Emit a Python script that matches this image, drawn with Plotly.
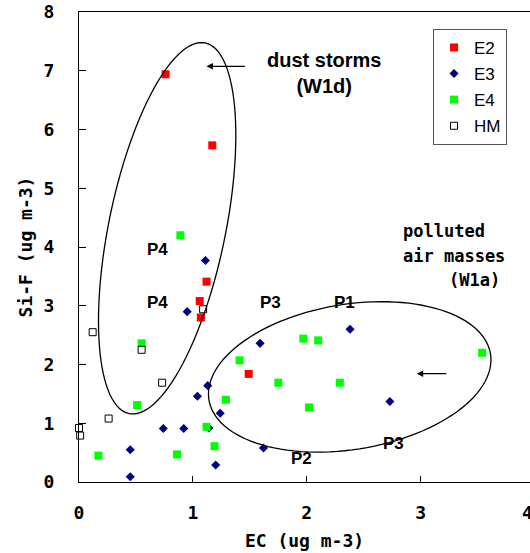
import numpy as np
import plotly.graph_objects as go

# EC vs Si-F concentrations (ug m-3) by sampling site
e2_ec = [0.76, 1.17, 1.12, 1.06, 1.07, 1.49]
e2_sif = [6.94, 5.73, 3.41, 3.08, 2.80, 1.84]

e3_ec = [1.11, 0.95, 1.59, 2.38, 2.73, 1.13, 1.04, 1.24, 0.74, 0.92, 1.14, 1.62, 1.20, 0.45, 0.45]
e3_sif = [3.77, 2.90, 2.36, 2.60, 1.37, 1.64, 1.46, 1.17, 0.91, 0.91, 0.92, 0.58, 0.29, 0.55, 0.09]

e4_ec = [0.89, 0.55, 1.41, 1.97, 2.10, 1.75, 2.29, 2.02, 3.54, 1.29, 1.12, 1.19, 0.86, 0.51, 0.17]
e4_sif = [4.20, 2.36, 2.07, 2.44, 2.41, 1.69, 1.69, 1.27, 2.20, 1.40, 0.94, 0.61, 0.47, 1.31, 0.45]

hm_ec = [1.09, 0.55, 0.12, 0.26, 0.73, 0.00, 0.01]
hm_sif = [2.94, 2.25, 2.55, 1.08, 1.69, 0.92, 0.79]

x_ticks = [0, 1, 2, 3]
y_ticks = [0, 1, 2, 3, 4, 5, 6, 7, 8]
X_MAX = 3.96

# Cluster outlines: centre plus two semi-axis vectors (data units)
dust_center = (0.774, 4.319)
dust_u = (0.334, 3.154)
dust_v = (-0.502, 0.200)

poll_center = (2.377, 1.789)
poll_u = (1.236, 0.392)
poll_v = (-0.103, 1.219)

MONO = "DejaVu Sans Mono"
SANS = "Liberation Sans"


def ellipse_path(c, u, v, n=120):
    t = np.linspace(0, 2 * np.pi, n)
    xs = c[0] + u[0] * np.cos(t) + v[0] * np.sin(t)
    ys = c[1] + u[1] * np.cos(t) + v[1] * np.sin(t)
    pts = [f"{x:.4f},{y:.4f}" for x, y in zip(xs, ys)]
    return "M " + " L ".join(pts) + " Z"


fig = go.Figure()

series = [
    ("E2", e2_ec, e2_sif, dict(symbol="square", size=8, color="#FF0000")),
    ("E3", e3_ec, e3_sif, dict(symbol="diamond", size=7, color="#000080")),
    ("E4", e4_ec, e4_sif, dict(symbol="square", size=8, color="#00FF00")),
    ("HM", hm_ec, hm_sif, dict(symbol="square", size=7, color="white",
                               line=dict(color="black", width=1))),
]
for name, xs, ys, mk in series:
    fig.add_trace(go.Scatter(
        x=xs, y=ys, mode="markers", name=name, marker=mk,
        legendgroup=name, cliponaxis=False,
    ))

fig.add_shape(type="path", path=ellipse_path(dust_center, dust_u, dust_v),
              xref="x", yref="y", line=dict(color="black", width=1.3))
fig.add_shape(type="path", path=ellipse_path(poll_center, poll_u, poll_v),
              xref="x", yref="y", line=dict(color="black", width=1.3))

# Arrows pointing into the clusters
for hx, tx, yy in [(1.119, 1.470, 7.075), (2.965, 3.238, 1.843)]:
    fig.add_annotation(x=hx, y=yy, ax=tx, ay=yy, xref="x", yref="y",
                       axref="x", ayref="y", text="", showarrow=True,
                       arrowhead=2, arrowsize=1, arrowwidth=1.3,
                       arrowcolor="black", standoff=0)

# Period labels
p_labels = [("P4", 0.688, 3.956), ("P4", 0.688, 3.063), ("P3", 1.684, 3.063),
            ("P1", 2.335, 3.063), ("P2", 1.954, 0.395), ("P3", 2.760, 0.661)]
for txt, px, py in p_labels:
    fig.add_annotation(x=px, y=py, text=f"<b>{txt}</b>", showarrow=False,
                       font=dict(family=SANS, size=17, color="black"))

fig.add_annotation(x=2.15, y=6.97, text="<b>dust storms<br>(W1d)</b>",
                   showarrow=False, align="center",
                   font=dict(family=SANS, size=20, color="black"))

for txt, px, py in [("polluted", 2.825, 4.273), ("air masses", 2.825, 3.842),
                    ("(W1a)", 3.229, 3.433)]:
    fig.add_annotation(x=px, y=py, text=f"<b>{txt}</b>", showarrow=False,
                       xanchor="left",
                       font=dict(family=MONO, size=17, color="black"))

# Last x tick label sits just past the right edge of the plot area
fig.add_annotation(x=4 / X_MAX, y=0, xref="paper", yref="y", yshift=-30,
                   text="<b>4</b>", showarrow=False,
                   font=dict(family=MONO, size=18, color="black"))

fig.update_layout(
    width=530, height=553,
    margin=dict(l=79, r=0, t=12, b=71),
    paper_bgcolor="white", plot_bgcolor="white",
    showlegend=True,
    legend=dict(x=0.785, y=0.964, xanchor="left", yanchor="top",
                bgcolor="white", bordercolor="#555555", borderwidth=1,
                font=dict(family=SANS, size=17, color="black"),
                tracegroupgap=1, itemwidth=30),
)
fig.update_xaxes(
    range=[0, X_MAX], tickvals=x_ticks, ticktext=[f"<b>{v}</b>" for v in x_ticks],
    ticks="inside", ticklen=6, tickcolor="black", tickwidth=1,
    showline=True, linecolor="black", linewidth=1.3, mirror=True,
    showgrid=False, zeroline=False, ticklabelstandoff=14,
    tickfont=dict(family=MONO, size=18, color="black"),
    title=dict(text="<b>EC (ug m-3)</b>", standoff=12,
               font=dict(family=MONO, size=18, color="black")),
)
fig.update_yaxes(
    range=[0, 8], tickvals=y_ticks, ticktext=[f"<b>{v}</b>" for v in y_ticks],
    ticks="inside", ticklen=7, tickcolor="black", tickwidth=1,
    showline=True, linecolor="black", linewidth=1.3,
    showgrid=False, zeroline=False, ticklabelstandoff=20,
    tickfont=dict(family=MONO, size=18, color="black"),
    title=dict(text="<b>Si-F (ug m-3)</b>", standoff=6,
               font=dict(family=MONO, size=18, color="black")),
)

fig.write_html("out.html")
